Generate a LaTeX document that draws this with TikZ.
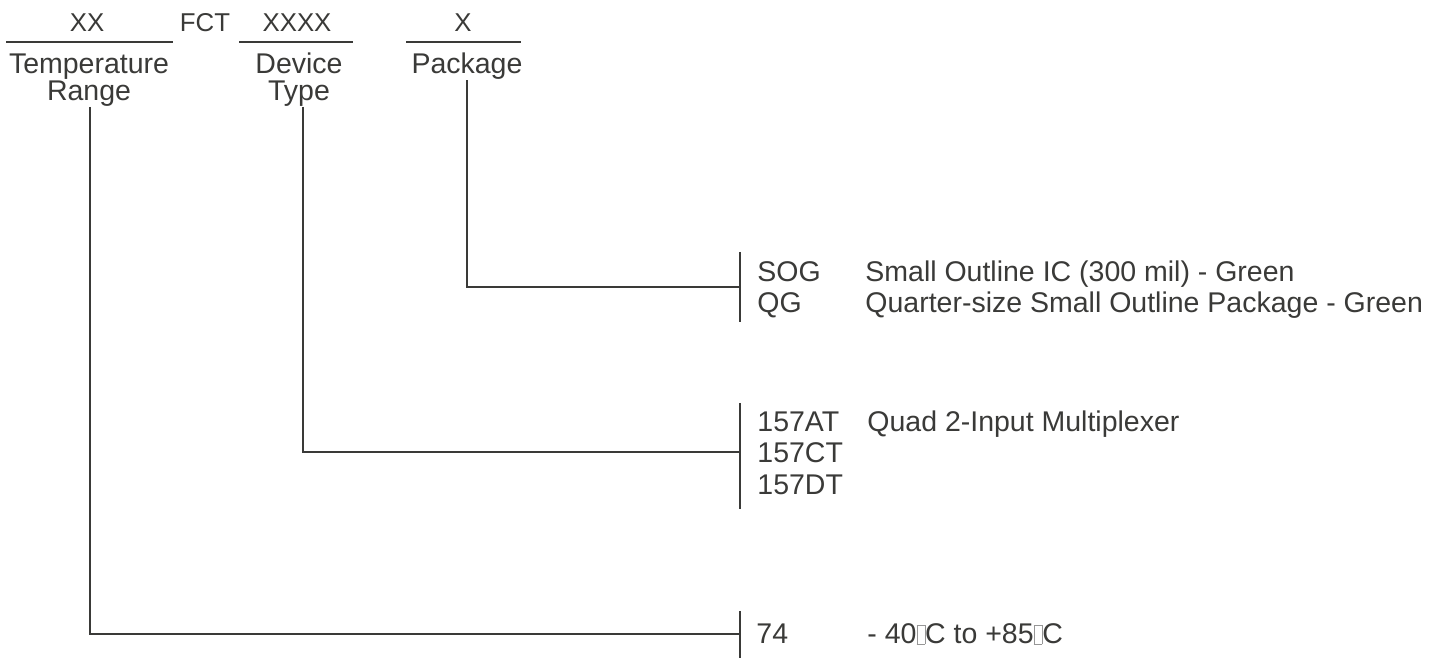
\documentclass[tikz,border=0pt]{standalone}
\usepackage{fontspec}
\setmainfont{Liberation Sans}
\usepackage{tikz}
\usetikzlibrary{positioning,calc}

\definecolor{ink}{RGB}{58,58,56}
\definecolor{boxgray}{RGB}{150,150,150}
\newcommand{\degbox}{{\color{boxgray}\setlength{\fboxsep}{0pt}\setlength{\fboxrule}{0.3pt}\fbox{\rule{0pt}{0.66em}\hspace{0.26em}}}}

\begin{document}
\begin{tikzpicture}[
    x=0.5pt,y=-0.5pt,
    field/.style={inner sep=0pt,anchor=base,text=ink,font=\fontsize{12.9}{14}\selectfont},
    caption/.style={inner sep=0pt,anchor=base,align=center,text=ink,font=\fontsize{14.25}{13.25}\selectfont},
    entry/.style={inner sep=0pt,anchor=base west,text=ink,font=\fontsize{14.25}{15.5}\selectfont},
    rule/.style={draw=ink,line width=1pt},
    wire/.style={draw=ink,line width=1pt}
  ]
    \useasboundingbox (0,0) rectangle (1432,662);

    % code fields
    \node[field] (xx) at (87,32) {XX};
    \node[field] (fct) at (205,32) {FCT};
    \node[field] (xxxx) at (297,32) {XXXX};
    \node[field] (x) at (463,32) {X};
    \draw[rule] (6,42) -- (173,42);
    \draw[rule] (239,42) -- (353,42);
    \draw[rule] (406,42) -- (521,42);

    \node[caption] (temp) at (89,100.5) {Temperature\\Range};
    \node[caption] (device) at (299,100.5) {Device\\Type};
    \node[caption] (package) at (467,74) {Package};

    % option bars
    \coordinate (pkgtop) at (740,252);
    \coordinate (pkgbot) at (740,322);
    \coordinate (pkgmid) at (740,287);
    \coordinate (devtop) at (740,403);
    \coordinate (devbot) at (740,509);
    \coordinate (devmid) at (740,452);
    \coordinate (rngtop) at (740,611);
    \coordinate (rngbot) at (740,658);
    \coordinate (rngmid) at (740,634);
    \draw[rule] (pkgtop) -- (pkgbot);
    \draw[rule] (devtop) -- (devbot);
    \draw[rule] (rngtop) -- (rngbot);

    % package options
    \node[entry] (sog) at (757,282) {SOG};
    \node[entry] (qg) at (757,313) {QG};
    \node[entry] (sogtxt) at (865,282) {Small Outline IC (300 mil) - Green};
    \node[entry] (qgtxt) at (865,313) {Quarter-size Small Outline Package - Green};

    % device options
    \node[entry] (at) at (757,432) {157AT};
    \node[entry] (ct) at (757,463) {157CT};
    \node[entry] (dt) at (757,495) {157DT};
    \node[entry] (attxt) at (867,432) {Quad 2-Input Multiplexer};

    % temperature options
    \node[entry] (t74) at (756,644) {74};
    \node[entry] (t74txt) at (867,644) {- 40\degbox C to +85\degbox C};

    \draw[wire] (package.south) |- (pkgmid);
    \draw[wire] ([xshift=2pt]device.south) |- (devmid);
    \draw[wire] ([xshift=0.5pt]temp.south) |- (rngmid);
  \end{tikzpicture}
\end{document}
